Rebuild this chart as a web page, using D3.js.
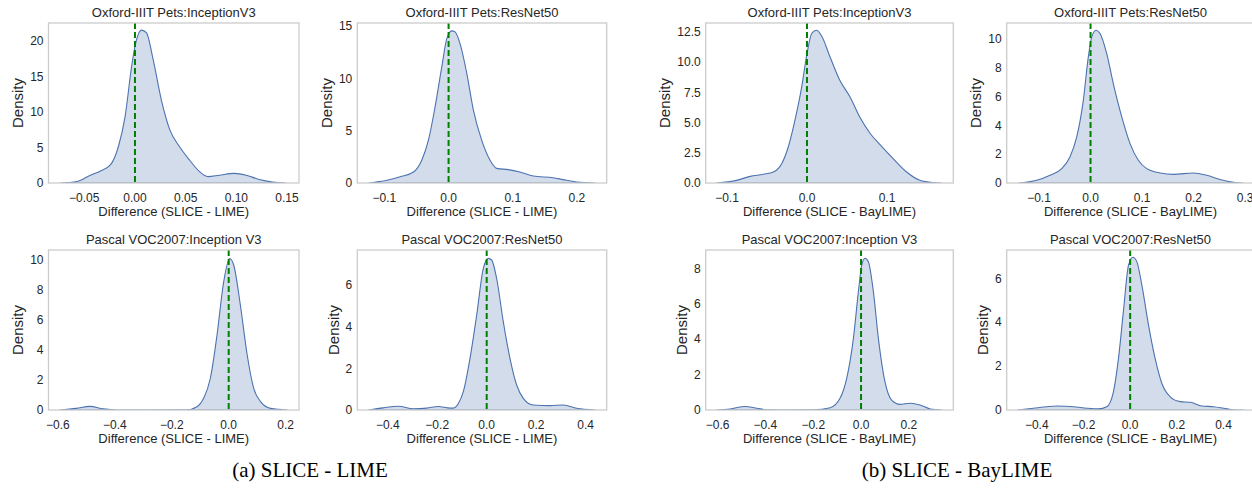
<!DOCTYPE html>
<html>
<head>
<meta charset="utf-8">
<script src="https://d3js.org/d3.v7.min.js"></script>
<style>
  body { margin: 0; background: #fff; }
  svg text { font-family: "Liberation Sans", Arial, sans-serif; fill: #262626; }
  .caption { font-family: "Liberation Serif", "Times New Roman", serif; fill: #000; }
</style>
</head>
<body>
<script>
// ---- data ----
const titles = [
  "Oxford-IIIT Pets:InceptionV3", "Oxford-IIIT Pets:ResNet50",
  "Oxford-IIIT Pets:InceptionV3", "Oxford-IIIT Pets:ResNet50",
  "Pascal VOC2007:Inception V3", "Pascal VOC2007:ResNet50",
  "Pascal VOC2007:Inception V3", "Pascal VOC2007:ResNet50"
];
const xLabels = [
  "Difference (SLICE - LIME)", "Difference (SLICE - LIME)",
  "Difference (SLICE - BayLIME)", "Difference (SLICE - BayLIME)",
  "Difference (SLICE - LIME)", "Difference (SLICE - LIME)",
  "Difference (SLICE - BayLIME)", "Difference (SLICE - BayLIME)"
];
const captions = ["(a) SLICE - LIME", "(b) SLICE - BayLIME"];

// axis limits (x) and top of density axis
const xLimits = [[-0.0853, 0.1618], [-0.1423, 0.2465], [-0.1266, 0.1829], [-0.1627, 0.3178],
                 [-0.633, 0.247], [-0.523, 0.485], [-0.65, 0.386], [-0.529, 0.532]];
const yMax = [22.5, 15.3, 13.24, 11.13, 10.67, 7.68, 9.04, 7.29];

const xTicks = [
  [-0.05, 0, 0.05, 0.10, 0.15], [-0.1, 0, 0.1, 0.2], [-0.1, 0, 0.1], [-0.1, 0, 0.1, 0.2, 0.3],
  [-0.6, -0.4, -0.2, 0, 0.2], [-0.4, -0.2, 0, 0.2, 0.4], [-0.6, -0.4, -0.2, 0, 0.2], [-0.4, -0.2, 0, 0.2, 0.4]
];
const xTickDigits = [2, 1, 1, 1, 1, 1, 1, 1];
const yTicks = [
  [0, 5, 10, 15, 20], [0, 5, 10, 15], [0, 2.5, 5, 7.5, 10, 12.5], [0, 2, 4, 6, 8, 10],
  [0, 2, 4, 6, 8, 10], [0, 2, 4, 6], [0, 2, 4, 6, 8], [0, 2, 4, 6]
];
const yTickDigits = [0, 0, 1, 0, 0, 0, 0, 0];

const densOxfordIncLime = [[-0.0735,0],[-0.066,0.05],[-0.057,0.2],[-0.044,1.1],[-0.034,1.7],[-0.0245,2.5],[-0.0164,5.1],[-0.0098,9.3],[-0.0033,16.4],[0.0,19.2],[0.0065,21.5],[0.0114,21.1],[0.018,17.3],[0.026,11.7],[0.0343,7.5],[0.044,5.1],[0.054,3.2],[0.0637,1.6],[0.072,0.9],[0.0833,1.1],[0.098,1.35],[0.1095,1.1],[0.1225,0.5],[0.1356,0.15],[0.1487,0]];
const densOxfordResLime = [[-0.1247,0],[-0.096,0.26],[-0.0754,0.6],[-0.0547,1.05],[-0.0417,2.2],[-0.0314,4.1],[-0.021,7.3],[-0.0106,11.1],[-0.0028,13.8],[0.005,14.55],[0.010,14.45],[0.018,13.3],[0.0283,10.5],[0.0386,7.0],[0.0516,4.1],[0.0645,2.2],[0.075,1.4],[0.093,1.28],[0.111,1.05],[0.132,0.67],[0.163,0.5],[0.1785,0.32],[0.1994,0.1],[0.2278,0]];
const densOxfordIncBay = [[-0.1129,0],[-0.088,0.22],[-0.071,0.55],[-0.0546,0.72],[-0.042,0.91],[-0.0316,1.6],[-0.0234,2.98],[-0.015,5.2],[-0.0066,7.95],[0,10.7],[0.0059,12.37],[0.012,12.64],[0.018,12.2],[0.029,10.4],[0.041,8.5],[0.054,7.1],[0.066,5.46],[0.079,4.1],[0.091,3.2],[0.108,2.0],[0.1246,0.91],[0.141,0.22],[0.158,0.03],[0.168,0]];
const densOxfordResBay = [[-0.140,0],[-0.1045,0.19],[-0.0786,0.54],[-0.056,1.0],[-0.040,1.81],[-0.0268,3.2],[-0.014,5.75],[-0.0043,8.77],[0.0023,10.16],[0.0107,10.63],[0.0184,10.4],[0.0314,9.0],[0.0443,6.9],[0.0606,4.6],[0.0767,2.74],[0.0928,1.58],[0.109,1.0],[0.135,0.7],[0.161,0.6],[0.1996,0.7],[0.2255,0.54],[0.2515,0.24],[0.2773,0.05],[0.2955,0]];
const densPascalIncLime = [[-0.594,0],[-0.535,0.11],[-0.488,0.24],[-0.441,0.08],[-0.393,0.005],[-0.30,0],[-0.147,0.01],[-0.1115,0.22],[-0.088,0.78],[-0.0646,2.1],[-0.041,5.0],[-0.0176,8.55],[0.0035,10.1],[0.0176,9.67],[0.041,7.0],[0.065,3.67],[0.088,1.44],[0.112,0.56],[0.147,0.11],[0.206,0]];
const densPascalResLime = [[-0.478,0],[-0.418,0.1],[-0.357,0.18],[-0.297,0.06],[-0.242,0.09],[-0.196,0.17],[-0.148,0.09],[-0.135,0.09],[-0.115,0.3],[-0.0945,0.88],[-0.0675,2.48],[-0.0404,4.56],[-0.0137,6.8],[0.0065,7.28],[0.020,7.2],[0.0404,6.3],[0.067,4.24],[0.094,2.48],[0.121,1.2],[0.148,0.56],[0.188,0.24],[0.256,0.21],[0.3095,0.24],[0.3636,0.08],[0.4376,0]];
const densPascalIncBay = [[-0.604,0],[-0.548,0.06],[-0.485,0.2],[-0.436,0.1],[-0.394,0.01],[-0.30,0],[-0.2,0.01],[-0.129,0.13],[-0.088,0.66],[-0.06,1.79],[-0.032,4.05],[-0.011,6.7],[0.003,8.2],[0.0167,8.57],[0.0305,8.38],[0.0515,6.7],[0.0725,4.05],[0.1,1.6],[0.128,0.56],[0.163,0.32],[0.205,0.38],[0.247,0.28],[0.289,0.06],[0.3376,0]];
const densPascalResBay = [[-0.483,0],[-0.415,0.08],[-0.357,0.15],[-0.314,0.18],[-0.243,0.15],[-0.185,0.08],[-0.136,0.05],[-0.1,0.15],[-0.0716,0.83],[-0.050,2.35],[-0.029,4.48],[-0.007,6.6],[0.0115,6.96],[0.0286,6.76],[0.050,5.7],[0.0787,3.87],[0.107,2.35],[0.136,1.21],[0.172,0.6],[0.215,0.38],[0.258,0.35],[0.308,0.18],[0.358,0.15],[0.401,0.08],[0.443,0.01],[0.486,0]];

const densities = [densOxfordIncLime, densOxfordResLime, densOxfordIncBay, densOxfordResBay,
                   densPascalIncLime, densPascalResLime, densPascalIncBay, densPascalResBay];

// ---- layout ----
const W = 1252, H = 491;
const colX = [[48.5, 299], [357.3, 606.7], [705.7, 953.3], [1006.7, 1254.3]];
const rowY = [[23, 183], [250, 410]];
const captionX = [310, 957];

const lineColor = "#4c72b0";
const fillColor = "rgba(76,114,176,0.25)";
const spineColor = "#cccccc";

const svg = d3.select("body").append("svg")
    .attr("width", W).attr("height", H);
svg.append("rect").attr("width", W).attr("height", H).attr("fill", "#fff");

const minus = s => s.replace("-", "\u2212");

densities.forEach((dens, i) => {
  const col = i % 4, row = Math.floor(i / 4);
  const [x0, x1] = colX[col];
  const [y0, y1] = rowY[row];

  const x = d3.scaleLinear().domain(xLimits[i]).range([x0, x1]);
  const y = d3.scaleLinear().domain([0, yMax[i]]).range([y1, y0]);

  const g = svg.append("g");

  g.append("clipPath").attr("id", "clip" + i)
    .append("rect").attr("x", x0).attr("y", y0).attr("width", x1 - x0).attr("height", y1 - y0);

  const area = d3.area()
      .x(d => x(d[0]))
      .y0(y(0))
      .y1(d => y(d[1]))
      .curve(d3.curveMonotoneX);

  g.append("path")
    .datum(dens)
    .attr("clip-path", "url(#clip" + i + ")")
    .attr("d", area)
    .attr("fill", fillColor)
    .attr("stroke", lineColor)
    .attr("stroke-width", 1.1);

  // zero reference line
  g.append("line")
    .attr("x1", x(0)).attr("x2", x(0))
    .attr("y1", y0).attr("y2", y1)
    .attr("stroke", "#008000")
    .attr("stroke-width", 2)
    .attr("stroke-dasharray", "6,3");

  // frame
  g.append("rect")
    .attr("x", x0).attr("y", y0)
    .attr("width", x1 - x0).attr("height", y1 - y0)
    .attr("fill", "none")
    .attr("stroke", spineColor)
    .attr("stroke-width", 1.3);

  // x tick labels
  g.selectAll(".xt")
    .data(xTicks[i])
    .join("text")
    .attr("x", d => x(d))
    .attr("y", y1 + 18.5)
    .attr("text-anchor", "middle")
    .attr("font-size", 12)
    .text(d => minus(d.toFixed(xTickDigits[i])));

  // y tick labels
  const yt = g.selectAll(".yt")
    .data(yTicks[i])
    .join("text")
    .attr("x", x0 - 5)
    .attr("y", d => y(d))
    .attr("dy", "0.35em")
    .attr("text-anchor", "end")
    .attr("font-size", 12)
    .text(d => d.toFixed(yTickDigits[i]));

  let left = x0;
  yt.each(function() { left = Math.min(left, this.getBBox().x); });

  g.append("text")
    .attr("transform", `translate(${left - 7},${(y0 + y1) / 2}) rotate(-90)`)
    .attr("text-anchor", "middle")
    .attr("font-size", 15)
    .text("Density");

  g.append("text")
    .attr("x", (x0 + x1) / 2)
    .attr("y", y1 + 33)
    .attr("text-anchor", "middle")
    .attr("font-size", 13)
    .text(xLabels[i]);

  g.append("text")
    .attr("x", (x0 + x1) / 2)
    .attr("y", y0 - 6)
    .attr("text-anchor", "middle")
    .attr("font-size", 13)
    .text(titles[i]);
});

svg.selectAll(".caption")
  .data(captions)
  .join("text")
  .attr("class", "caption")
  .attr("x", (d, i) => captionX[i])
  .attr("y", 477)
  .attr("text-anchor", "middle")
  .attr("font-size", 21)
  .text(d => d);
</script>
</body>
</html>
